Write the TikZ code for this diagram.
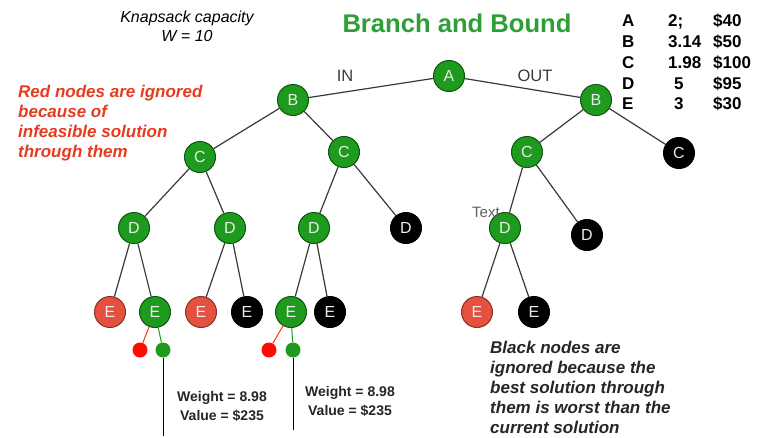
\documentclass[tikz,border=0pt]{standalone}
\usepackage{fontspec}
\setmainfont{Liberation Sans}
\definecolor{nodegreen}{HTML}{1E9A1E}
\definecolor{nodered}{HTML}{E4513F}
\definecolor{titlegreen}{HTML}{2E9E36}
\definecolor{notered}{HTML}{E63B1F}
\definecolor{edgegray}{HTML}{3A3A3A}
\tikzset{
  tnode/.style={circle,minimum size=31pt,inner sep=0pt,line width=1pt,
    text=white!92!black,font=\fontsize{16}{16}\selectfont},
  gnode/.style={tnode,fill=nodegreen,draw=nodegreen!55!black},
  rnode/.style={tnode,fill=nodered,draw=nodered!60!black},
  bnode/.style={tnode,fill=black,draw=black},
  dot/.style={circle,minimum size=15pt,inner sep=0pt},
  branch/.style={draw=edgegray,line width=1.2pt},
  note/.style={align=left,anchor=north west,inner sep=0pt,
    font=\fontsize{17}{20}\selectfont\bfseries\itshape}
}
\begin{document}
\begin{tikzpicture}[x=1pt,y=-1pt]
\useasboundingbox[fill=white] (0,0) rectangle (761,437);

% titles and legend
\node[anchor=base,text=titlegreen,font=\fontsize{25.6}{30}\selectfont\bfseries] (title) at (457,32.3) {Branch and Bound};
\node[anchor=base,font=\fontsize{16}{19}\selectfont\itshape] (cap1) at (187,22.7) {Knapsack capacity};
\node[anchor=base,font=\fontsize{16}{19}\selectfont\itshape] (cap2) at (187,41.7) {W = 10};
\foreach \n/\w/\v/\dx [count=\i] in {A/2;/\$40/0,B/3.14/\$50/0,C/1.98/\$100/0,D/5/\$95/6,E/3/\$30/6} {
  \node[anchor=base west,inner sep=0pt,font=\fontsize{17}{20}\selectfont\bfseries] (item\i) at (622,26.7+20.8*\i-20.8) {\n};
  \node[anchor=base west,inner sep=0pt,font=\fontsize{17}{20}\selectfont\bfseries] (wt\i) at (668+\dx,26.7+20.8*\i-20.8) {\w};
  \node[anchor=base west,inner sep=0pt,font=\fontsize{17}{20}\selectfont\bfseries] (val\i) at (713,26.7+20.8*\i-20.8) {\v};
}

% tree
\node[gnode] (A) at (449,76) {A};
\node[gnode] (B1) at (293,100) {B};
\node[gnode] (B2) at (596,100) {B};
\node[gnode] (C1) at (200,157) {C};
\node[gnode] (C2) at (344,152) {C};
\node[gnode] (C3) at (527,152) {C};
\node[bnode] (C4) at (679,153) {C};
\node[gnode] (D1) at (134,228) {D};
\node[gnode] (D2) at (230,228) {D};
\node[gnode] (D3) at (314,228) {D};
\node[bnode] (D4) at (406,228) {D};
\node[gnode] (D5) at (505,228) {D};
\node[bnode] (D6) at (587,235) {D};
\node[rnode] (E1) at (110,312) {E};
\node[gnode] (E2) at (155,312) {E};
\node[rnode] (E3) at (201,312) {E};
\node[bnode] (E4) at (247,312) {E};
\node[gnode] (E5) at (291,312) {E};
\node[bnode] (E6) at (330,312) {E};
\node[rnode] (E7) at (477,312) {E};
\node[bnode] (E8) at (534,312) {E};

\draw[branch] (A) -- (B1) (A) -- (B2);
\draw[branch] (B1) -- (C1) (B1) -- (C2) (B2) -- (C3) (B2) -- (C4);
\draw[branch] (C1) -- (D1) (C1) -- (D2) (C2) -- (D3) (C2) -- (D4);
\draw[branch] (C3) -- (D5) (C3) -- (D6);
\draw[branch] (D1) -- (E1) (D1) -- (E2) (D2) -- (E3) (D2) -- (E4);
\draw[branch] (D3) -- (E5) (D3) -- (E6) (D5) -- (E7) (D5) -- (E8);

\node[text=edgegray,font=\fontsize{16.5}{18}\selectfont] (in) at (345,76) {IN};
\node[text=edgegray,font=\fontsize{16.5}{18}\selectfont] (out) at (535,76) {OUT};
\node[anchor=base west,inner sep=0pt,text=edgegray!80,font=\fontsize{15}{18}\selectfont] (txt) at (472,217) {Text};

% leaves under E
\node[dot,fill=red!90!orange] (r1) at (140,350) {};
\node[dot,fill=nodegreen] (g1) at (163,350) {};
\node[dot,fill=red!90!orange] (r2) at (269,350) {};
\node[dot,fill=nodegreen] (g2) at (293,350) {};
\draw[red!60!orange,line width=1pt] (E2) -- (r1);
\draw[nodegreen,line width=1pt] (E2) -- (g1);
\draw[red!60!orange,line width=1pt] (E5) -- (r2);
\draw[nodegreen,line width=1pt] (E5) -- (g2);
\coordinate (g1end) at (163,436);
\coordinate (g2end) at (293,430);
\draw[black,line width=1pt] (g1) -- (g1end);
\draw[black,line width=1pt] (g2) -- (g2end);

\node[align=center,font=\fontsize{14}{19}\selectfont\bfseries,text=black!85] (res1) at (222,406) {Weight = 8.98\\Value = \$235};
\node[align=center,font=\fontsize{14}{19}\selectfont\bfseries,text=black!85] (res2) at (350,401) {Weight = 8.98\\Value = \$235};

% notes
\node[note,text=notered] (rednote) at (18,84.5) {Red nodes are ignored\\because of\\infeasible solution\\through them};
\node[note,text=black!85] (blacknote) at (490,341) {Black nodes are\\ignored because the\\best solution through\\them is worst than the\\current solution};
\end{tikzpicture}
\end{document}
